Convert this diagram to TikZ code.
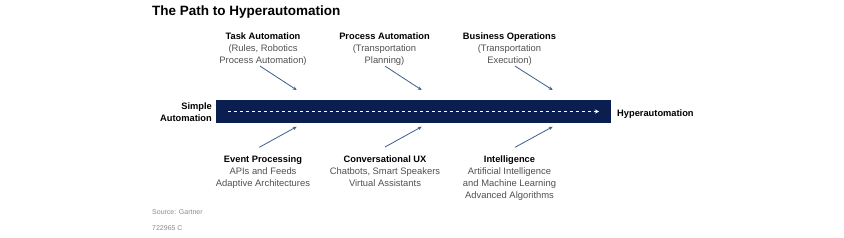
\documentclass[tikz,border=0pt]{standalone}
\usepackage{fontspec}
\setmainfont{Liberation Sans}
\usetikzlibrary{arrows.meta,positioning,calc}
\definecolor{barnavy}{HTML}{0B1E50}
\definecolor{arrblue}{HTML}{3E5C8E}
\definecolor{txtgray}{HTML}{505050}
\definecolor{srcgray}{HTML}{8A8A8A}

\begin{document}
\begin{tikzpicture}[x=1pt, y=-1pt, >=Stealth,
  lbl/.style={align=center, anchor=north, inner sep=0pt, text=txtgray, font=\fontsize{9.4}{12}\selectfont},
  hd/.style={anchor=west, inner sep=0pt, font=\bfseries\fontsize{9.3}{12}\selectfont},
  arr/.style={arrblue, line width=0.8pt, arrows={-Stealth[length=4pt,width=3.5pt]}}]
  \useasboundingbox (0,0) rectangle (844,238);
  \node[anchor=west, inner sep=0pt, font=\bfseries\fontsize{13.5}{15}\selectfont] (title) at (152,12) {The Path to Hyperautomation};

  % the path
  \node[fill=barnavy, minimum width=395pt, minimum height=23pt, inner sep=0pt] (bar) at (413.5,111.5) {};
  \coordinate (dstart) at (228,111.5);
  \coordinate (dend) at (599,111.5);
  \draw[white, line width=0.7pt, dash pattern=on 3pt off 3pt, arrows={-Stealth[length=4pt,width=4pt]}] (dstart) -- (dend);
  \node[align=right, anchor=east, inner sep=0pt, font=\bfseries\fontsize{9.3}{12}\selectfont] (simple) at (212,112.5) {Simple\\Automation};
  \node[hd] (hyper) at (617,114) {Hyperautomation};

  % above the bar
  \node[lbl] (task) at (263,32.5) {\textcolor{black}{\bfseries\fontsize{9.3}{12}\selectfont Task Automation}\\(Rules, Robotics\\Process Automation)};
  \node[lbl] (proc) at (384.5,32.5) {\textcolor{black}{\bfseries\fontsize{9.3}{12}\selectfont Process Automation}\\(Transportation\\Planning)};
  \node[lbl] (biz) at (509.5,32.5) {\textcolor{black}{\bfseries\fontsize{9.3}{12}\selectfont Business Operations}\\(Transportation\\Execution)};
  \coordinate (t1) at (296.7,90);
  \coordinate (t2) at (421.7,90);
  \coordinate (t3) at (552.7,90);
  \draw[arr] ($(task.south)+(-3,0.5)$) -- (t1);
  \draw[arr] ($(proc.south)+(0.5,0.5)$) -- (t2);
  \draw[arr] ($(biz.south)+(5.5,0.5)$) -- (t3);

  % below the bar
  \node[lbl] (event) at (263,155.5) {\textcolor{black}{\bfseries\fontsize{9.3}{12}\selectfont Event Processing}\\APIs and Feeds\\Adaptive Architectures};
  \node[lbl] (conv) at (385,155.5) {\textcolor{black}{\bfseries\fontsize{9.3}{12}\selectfont Conversational UX}\\Chatbots, Smart Speakers\\Virtual Assistants};
  \node[lbl] (intel) at (509.5,155.5) {\textcolor{black}{\bfseries\fontsize{9.3}{12}\selectfont Intelligence}\\Artificial Intelligence\\and Machine Learning\\Advanced Algorithms};
  \coordinate (b1) at (296.7,126.7);
  \coordinate (b2) at (421.7,126.7);
  \coordinate (b3) at (552.7,126.7);
  \draw[arr] ($(event.north)+(-3.7,-8.2)$) -- (b1);
  \draw[arr] ($(conv.north)+(0,-8.5)$) -- (b2);
  \draw[arr] ($(intel.north)+(5.5,-8.2)$) -- (b3);

  % source
  \node[anchor=west, inner sep=0pt, text=srcgray, font=\fontsize{7}{8}\selectfont] (src) at (152,212) {Source: Gartner};
  \node[anchor=west, inner sep=0pt, text=srcgray, font=\fontsize{7}{8}\selectfont] (code) at (152,228.5) {722965 C};
\end{tikzpicture}
\end{document}
